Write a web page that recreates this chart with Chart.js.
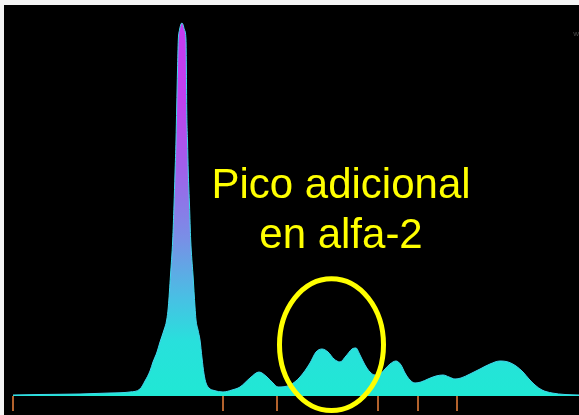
<!DOCTYPE html>
<html>
<head>
<meta charset="utf-8">
<script src="https://cdn.jsdelivr.net/npm/chart.js@4"></script>
<style>
  html, body { margin: 0; padding: 0; background: #f4f4f4; }
  #wrap { position: absolute; left: 4px; top: 5px; }
  canvas { background: #000; display: block; }
</style>
</head>
<body>
<div id="wrap"><canvas id="densitometry" width="575" height="410"></canvas></div>
<script>
// Densitometry trace (mobility units vs relative absorbance)
const mobility = [
  1.8, 7.2, 15.2, 21.2, 25.2, 27.2, 28.2, 29.2, 29.8, 30.6,
  31.2, 32.0, 32.54, 32.86, 33.3, 33.74, 34.0, 34.2, 34.4, 34.54,
  34.7, 34.86, 35.1, 35.4, 35.6, 35.8, 36.1, 36.4, 36.48, 36.54,
  36.7, 36.86, 37.1, 37.34, 37.8, 38.2, 38.4, 38.8, 39.2, 39.6,
  40.0, 40.4, 41.0, 42.0, 43.8,
  45.6, 47.2, 49.2, 51.0, 52.6, 53.8, 54.8, 57.2, 59.2, 61.2,
  62.4, 63.6, 64.8, 66.0, 67.2, 68.4, 69.6, 70.4, 71.2, 72.2,
  73.2, 74.2, 75.2, 76.2, 77.2, 78.4, 79.4, 80.2, 81.2, 82.2,
  83.4, 84.8, 86.4, 87.8, 89.0, 90.2, 91.4, 93.2, 95.2, 97.2,
  99.2, 100.8, 102.4, 103.8, 105.0, 106.2, 107.6, 109.6, 112.2, 115.0
];
const absorbance = [
  0.27, 0.4, 0.53, 0.8, 1.07, 1.87, 4.0, 6.67, 9.07, 11.73,
  14.4, 17.6, 20.27, 23.73, 32.27, 41.6, 50.93, 59.47, 68.27, 77.07,
  86.93, 94.93, 97.6, 99.2, 99.47, 99.07, 97.6, 94.93, 86.93, 77.07,
  68.27, 59.47, 50.93, 41.6, 32.27, 23.73, 20.27, 17.6, 14.93, 10.13,
  5.87, 3.47, 2.13, 1.47, 1.07,
  1.6, 2.4, 4.8, 6.4, 5.07, 3.47, 2.4, 2.93, 5.07, 8.8,
  11.73, 12.53, 11.73, 9.87, 9.07, 10.67, 12.53, 12.8, 10.93, 8.27,
  6.4, 5.6, 5.87, 7.2, 8.53, 9.33, 8.27, 6.13, 4.27, 3.47,
  3.73, 4.53, 5.33, 5.6, 5.07, 4.53, 4.8, 5.87, 7.2, 8.53,
  9.33, 9.07, 8.0, 6.4, 4.53, 2.93, 1.6, 0.8, 0.4, 0.27
];
// fraction boundaries (orange marks under the baseline)
const fractionCuts = [1.8, 43.8, 54.6, 74.8, 82.8, 90.6];

const noteLines = ["Pico adicional", "en alfa-2"];
const noteX = 67.4;
const noteBaselines = [52.8, 39.5];
// highlighted region (ellipse bounds, data units)
const circleX = [55.1, 75.9];
const circleY = [-3.9, 31.3];

const points = mobility.map((x, i) => ({ x: x, y: absorbance[i] }));

function traceGradient(context) {
    const chart = context.chart;
    const area = chart.chartArea;
    if (!area) return "#22e6d6";
    const g = chart.ctx.createLinearGradient(0, area.bottom, 0, area.top);
    g.addColorStop(0, "#20e8d4");
    g.addColorStop(0.14, "#28e0dc");
    g.addColorStop(0.25, "#48c0e4");
    g.addColorStop(0.4, "#7890e6");
    g.addColorStop(0.58, "#a060ea");
    g.addColorStop(0.76, "#c040ee");
    g.addColorStop(1, "#c83af0");
    return g;
}

const overlay = {
    id: "overlay",
    afterDraw(chart) {
        const c = chart.ctx;
        const xs = chart.scales.x, ys = chart.scales.y;
        const base = ys.getPixelForValue(0);

        c.save();
        c.strokeStyle = "#b3622c";
        c.lineWidth = 2;
        fractionCuts.forEach(v => {
            const px = Math.round(xs.getPixelForValue(v));
            c.beginPath();
            c.moveTo(px, base);
            c.lineTo(px, base + 15);
            c.stroke();
        });

        // ellipse around the alpha-2 zone
        const x0 = xs.getPixelForValue(circleX[0]), x1 = xs.getPixelForValue(circleX[1]);
        const y0 = ys.getPixelForValue(circleY[1]), y1 = ys.getPixelForValue(circleY[0]);
        c.strokeStyle = "#ffff00";
        c.lineWidth = 5;
        c.beginPath();
        c.ellipse((x0 + x1) / 2, (y0 + y1) / 2, (x1 - x0) / 2, (y1 - y0) / 2, 0, 0, Math.PI * 2);
        c.stroke();

        c.fillStyle = "#ffff00";
        c.font = "42px 'Liberation Sans', Arial, sans-serif";
        c.textAlign = "center";
        c.textBaseline = "alphabetic";
        noteLines.forEach((t, i) => {
            c.fillText(t, xs.getPixelForValue(noteX), ys.getPixelForValue(noteBaselines[i]));
        });

        c.fillStyle = "#4a4a4a";
        c.font = "8px 'Liberation Sans', sans-serif";
        c.textAlign = "right";
        c.fillText("w", chart.width, 31);
        c.restore();
    }
};

new Chart(document.getElementById("densitometry").getContext("2d"), {
    type: "line",
    data: {
        datasets: [{
            data: points,
            fill: "origin",
            backgroundColor: traceGradient,
            borderColor: "#40d8ee",
            borderWidth: 1,
            pointRadius: 0,
            cubicInterpolationMode: "monotone"
        }]
    },
    options: {
        responsive: false,
        animation: false,
        layout: { padding: { left: 0, right: 0, top: 0, bottom: 19 } },
        scales: {
            x: { type: "linear", min: 0, max: 115, display: false },
            y: { min: 0, max: 104.27, display: false }
        },
        plugins: {
            legend: { display: false },
            tooltip: { enabled: false }
        }
    },
    plugins: [overlay]
});
</script>
</body>
</html>
